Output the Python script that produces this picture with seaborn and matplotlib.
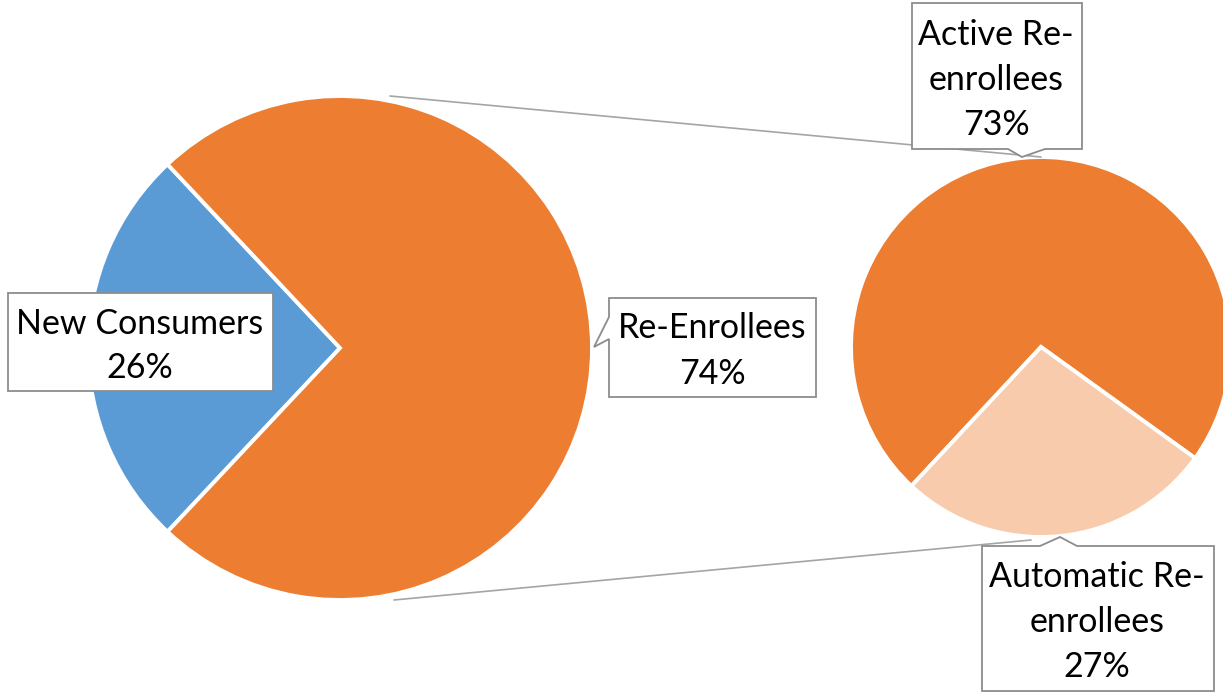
import matplotlib
matplotlib.use("Agg")
import matplotlib.pyplot as plt
import seaborn as sns
from matplotlib.patches import Polygon

# data
main_labels = ["New Consumers", "Re-Enrollees"]
main_values = [26, 74]
sub_labels = ["Active Re-\nenrollees", "Automatic Re-\nenrollees"]
sub_values = [73, 27]

blue = "#5B9BD5"
orange = "#ED7D31"
light_orange = "#F8CBAD"

sns.set_style("white")
plt.rcParams["font.family"] = ["Lato", "DejaVu Sans"]

fig = plt.figure(figsize=(12.23, 6.93), dpi=100)
ax = fig.add_axes([0, 0, 1, 1])

# y axis is flipped (pixel coords), so angles are given clockwise in data space
# main pie, blue wedge centred on the left
left_c, left_r = (340, 348), 252
ax.pie(main_values, colors=[blue, orange], counterclock=False,
       startangle=-(180 - main_values[0] * 1.8),
       center=left_c, radius=left_r, frame=True,
       wedgeprops=dict(edgecolor="white", linewidth=2.8))

# secondary pie, automatic wedge at the bottom
right_c, right_r = (1041, 347), 190
ax.pie(sub_values, colors=[orange, light_orange], counterclock=False,
       startangle=-(227 + sub_values[1] * 3.6),
       center=right_c, radius=right_r, frame=True,
       wedgeprops=dict(edgecolor="white", linewidth=2.8))

# connector lines
ax.plot([390, right_c[0]], [96, right_c[1] - right_r], color="#A5A5A5", lw=1.2, zorder=1)
ax.plot([394, right_c[0] - 10], [600, right_c[1] + right_r + 3], color="#A5A5A5", lw=1.2, zorder=1)


def callout(pts, text, center):
    ax.add_patch(Polygon(pts, closed=True, facecolor="white", edgecolor="#8C8C8C",
                         linewidth=1.3, zorder=5))
    ax.text(center[0], center[1], text, ha="center", va="center", fontsize=24.5,
            linespacing=1.5, zorder=6, color="black")


callout([(8, 293), (273, 293), (273, 391), (8, 391)],
        f"{main_labels[0]}\n{main_values[0]}%", (140, 346))
callout([(609, 298), (816, 298), (816, 397), (609, 397), (609, 339), (594, 347), (609, 317)],
        f"{main_labels[1]}\n{main_values[1]}%", (712, 351))
callout([(912, 3), (1082, 3), (1082, 149), (1045, 149), (1022, 157), (1008, 149), (912, 149)],
        f"{sub_labels[0]}\n{sub_values[0]}%", (996, 80))
callout([(982, 546), (1040, 546), (1060, 537), (1077, 546), (1214, 546), (1214, 691), (982, 691)],
        f"{sub_labels[1]}\n{sub_values[1]}%", (1097, 622))

ax.set_xlim(0, 1223)
ax.set_ylim(693, 0)
ax.set_aspect("equal")
ax.axis("off")

fig.savefig("out.png", dpi=100)
